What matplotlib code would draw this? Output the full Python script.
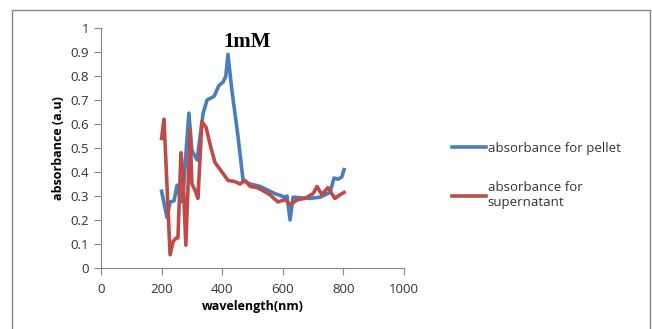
import numpy as np
import matplotlib.pyplot as plt
from matplotlib.patches import Rectangle

# absorbance spectra, 1mM
wl_pellet = [200, 218, 228, 241, 251, 264, 272, 290, 300, 317, 337, 350, 373, 389,
             403, 412, 419, 432, 452, 469, 492, 525, 574, 607, 614, 624, 634, 690,
             723, 756, 769, 782, 795, 802]
abs_pellet = [0.32, 0.21, 0.275, 0.28, 0.345, 0.275, 0.33, 0.645, 0.49, 0.45, 0.645, 0.70,
              0.715, 0.76, 0.775, 0.80, 0.89, 0.74, 0.55, 0.365, 0.35, 0.34, 0.31, 0.295,
              0.30, 0.20, 0.295, 0.29, 0.295, 0.315, 0.375, 0.37, 0.38, 0.41]

wl_super = [200, 208, 228, 238, 248, 254, 264, 270, 280, 294, 300, 310, 320, 333,
            347, 360, 376, 399, 419, 442, 459, 475, 492, 515, 531, 558, 584, 607,
            624, 650, 673, 700, 713, 729, 749, 772, 789, 802]
abs_super = [0.54, 0.62, 0.055, 0.11, 0.125, 0.125, 0.48, 0.40, 0.095, 0.575, 0.35, 0.325,
             0.29, 0.61, 0.585, 0.515, 0.44, 0.40, 0.365, 0.36, 0.35, 0.365, 0.34, 0.335,
             0.325, 0.305, 0.275, 0.285, 0.265, 0.285, 0.29, 0.31, 0.34, 0.305, 0.335,
             0.29, 0.305, 0.315]

plt.rcParams['font.family'] = ['Open Sans', 'DejaVu Sans']

fig = plt.figure(figsize=(6.52, 3.29), dpi=100)
fig.patches.append(Rectangle((12/652, -0.1), 638/652, 1.1 - 10/329, transform=fig.transFigure,
                             fill=False, edgecolor='#868686', linewidth=1))
ax = fig.add_axes([101/652, 61/329, 303/652, 240/329])

ax.plot(wl_pellet, abs_pellet, color='#4A7EBB', linewidth=2.6, label='absorbance for pellet')
ax.plot(wl_super, abs_super, color='#BE4B48', linewidth=2.6, label='absorbance for\nsupernatant')

ax.set_xlim(0, 1000)
ax.set_ylim(0, 1)
ax.set_xticks(np.arange(0, 1001, 200))
ax.set_yticks(np.arange(0, 1.01, 0.1))
ax.set_yticklabels(['0', '0.1', '0.2', '0.3', '0.4', '0.5', '0.6', '0.7', '0.8', '0.9', '1'])
for s in ['top', 'right']:
    ax.spines[s].set_visible(False)
for s in ['left', 'bottom']:
    ax.spines[s].set_color('#868686')
ax.tick_params(axis='both', colors='#868686', labelcolor='#333333', labelsize=9.5,
               direction='out', length=5)
ax.tick_params(axis='x', pad=6)

ax.set_xlabel('wavelength(nm)', fontsize=9, fontweight='bold', labelpad=3)
ax.set_ylabel('absorbance (a.u)', fontsize=9, fontweight='bold', labelpad=4)

ax.text(482, 0.94, '1mM', fontsize=15, fontweight='bold', family='Liberation Serif',
        ha='center', va='center')

leg = ax.legend(loc='upper left', bbox_to_anchor=(440/652, 1 - 130/329), bbox_transform=fig.transFigure,
                frameon=False, fontsize=9.5, handlelength=2.6, handletextpad=0.1,
                labelspacing=2.0)
for t in leg.get_texts():
    t.set_color('#333333')

plt.savefig('out.png', dpi=100)
